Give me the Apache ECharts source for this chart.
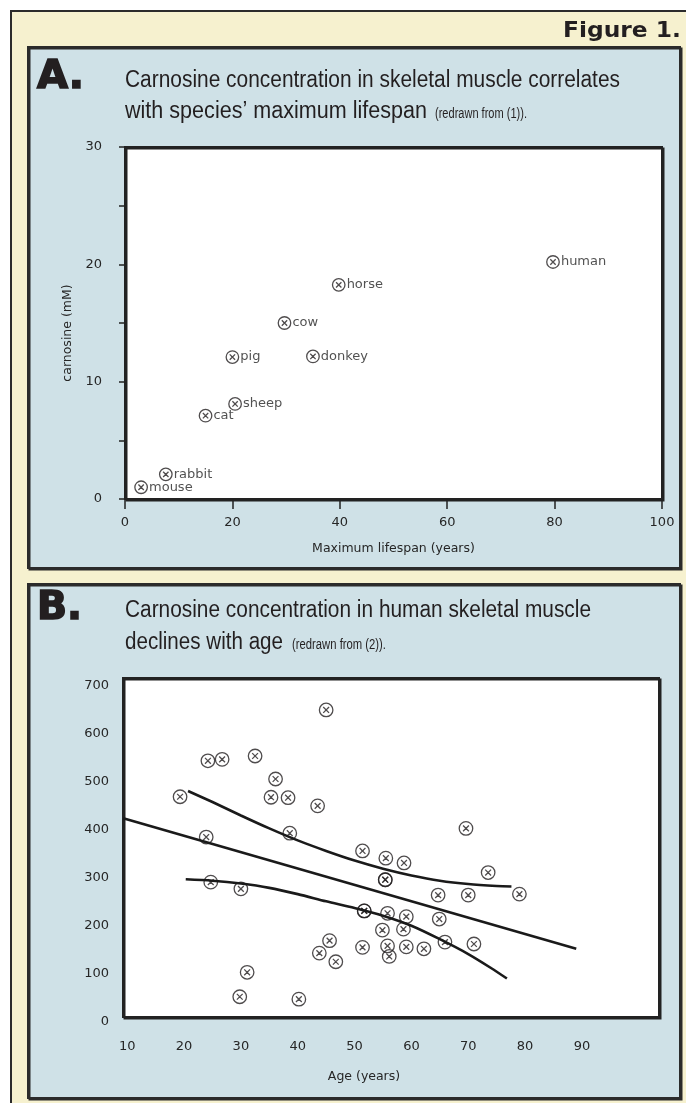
<!DOCTYPE html>
<html>
<head>
<meta charset="utf-8">
<script src="https://cdn.jsdelivr.net/npm/echarts@6/dist/echarts.min.js"></script>
<style>
html,body{margin:0;padding:0;background:#fff;}
#chart{width:686px;height:1103px;}
</style>
</head>
<body>
<div id="chart"></div>
<script>
// ---------- Panel A data ----------
const speciesNames = ['human', 'horse', 'cow', 'donkey', 'pig', 'sheep', 'cat', 'rabbit', 'mouse'];
const speciesLifespan = [79.7, 39.8, 29.7, 35.0, 20.0, 20.5, 15.0, 7.6, 3.0];
const speciesCarnosine = [20.2, 18.25, 15.0, 12.15, 12.1, 8.1, 7.1, 2.1, 1.0];
const aXTicks = [0, 20, 40, 60, 80, 100];
const aYLabels = [0, 10, 20, 30];

// ---------- Panel B data ----------
const subjectAge = [45.0, 24.2, 26.7, 32.5, 36.1, 19.3, 35.3, 38.3, 43.5, 23.9, 38.6, 51.4, 55.5, 58.7,
  69.6, 73.5, 55.4, 55.4, 64.7, 70.0, 79.0, 51.7, 51.7, 55.8, 59.1, 64.9, 54.9, 58.6, 45.6, 43.8,
  46.7, 51.4, 55.8, 56.1, 59.1, 62.2, 65.9, 71.0, 24.7, 30.0, 31.1, 29.8, 40.2];
const subjectCarnosine = [650, 544, 547, 554, 506, 469, 468, 467, 450, 385, 393, 356, 341, 331,
  403, 311, 296, 296, 264, 264, 266, 231, 231, 226, 219, 214, 191, 193, 169, 143,
  125, 155, 158, 136, 156, 152, 166, 162, 291, 277, 103, 52, 47];
const regressionLine = [[9.3, 424], [89, 152]];
const upperBand = [[20.7, 481], [25, 458], [30, 430], [35, 403], [40, 378], [45, 356], [50, 336],
  [55, 319], [60, 305], [65, 294], [70, 287], [75, 283], [77.6, 282]];
const lowerBand = [[20.3, 297], [25, 294], [30, 288], [35, 279], [40, 266], [45, 251], [50, 237],
  [55, 221], [60, 200], [65, 172], [70, 141], [74, 112], [76.8, 90]];
const bXLabels = [10, 20, 30, 40, 50, 60, 70, 80, 90];
const bYLabels = [0, 100, 200, 300, 400, 500, 600, 700];

// ---------- styling ----------
const INK = '#231f20';
const LABEL = '#262626';
const CREAM = '#f6f1cf';
const PANEL = '#cfe1e7';
const XSYM = 'path://M10,0A10,10,0,1,1,-10,0A10,10,0,1,1,10,0ZM-4.3,-4.3L4.3,4.3M4.3,-4.3L-4.3,4.3';
const TICKFONT = 'DejaVu Sans';
const TITLEFONT = '"Liberation Sans Narrow", "Liberation Sans", sans-serif';

const mctx = document.createElement('canvas').getContext('2d');
function fitText(text, x, y, width, size, family, weight) {
  mctx.font = (weight || 'normal') + ' ' + size + 'px ' + family;
  const w = mctx.measureText(text).width;
  return {
    type: 'text', x: x, y: y, scaleX: width / w, z: 10,
    style: { text: text, fontSize: size, fontFamily: family, fontWeight: weight || 'normal',
      fill: INK, align: 'left', verticalAlign: 'middle' }
  };
}

const chart = echarts.init(document.getElementById('chart'), null, { renderer: 'canvas' });

const graphics = [
  { type: 'rect', z: -30, shape: { x: 11, y: 11, width: 720, height: 1140 },
    style: { fill: CREAM, stroke: '#2b2b2b', lineWidth: 2 } },
  { type: 'rect', z: -20, shape: { x: 28, y: 47, width: 652, height: 521 },
    style: { fill: PANEL, stroke: '#2b2b2b', lineWidth: 2, shadowColor: '#2b2b2b', shadowOffsetX: 1.5, shadowOffsetY: 1.5, shadowBlur: 0 } },
  { type: 'rect', z: -20, shape: { x: 28, y: 584, width: 652, height: 514 },
    style: { fill: PANEL, stroke: '#2b2b2b', lineWidth: 2, shadowColor: '#2b2b2b', shadowOffsetX: 1.5, shadowOffsetY: 1.5, shadowBlur: 0 } },
  { type: 'rect', z: -10, shape: { x: 125, y: 147, width: 537, height: 352 },
    style: { fill: '#fff', stroke: '#222', lineWidth: 2, shadowColor: '#222', shadowOffsetX: 1.5, shadowOffsetY: 1.5, shadowBlur: 0 } },
  { type: 'rect', z: -10, shape: { x: 123, y: 678, width: 536, height: 339 },
    style: { fill: '#fff', stroke: '#222', lineWidth: 2, shadowColor: '#222', shadowOffsetX: 1.5, shadowOffsetY: 1.5, shadowBlur: 0 } },
  fitText('Figure 1.', 563, 31, 118, 22, 'DejaVu Sans', 'bold'),
  fitText('A.', 37, 78, 47, 39, 'DejaVu Sans', 'bold'),
  fitText('B.', 37, 609, 45, 39, 'DejaVu Sans', 'bold'),
  fitText('Carnosine concentration in skeletal muscle correlates', 125, 81, 495, 23, TITLEFONT),
  fitText('with species\u2019 maximum lifespan', 125, 112, 302, 23, TITLEFONT),
  fitText('(redrawn from (1)).', 435, 114, 92, 14, TITLEFONT),
  fitText('Carnosine concentration in human skeletal muscle', 125, 611, 466, 23, TITLEFONT),
  fitText('declines with age', 125, 643, 158, 23, TITLEFONT),
  fitText('(redrawn from (2)).', 292, 645, 94, 14, TITLEFONT)
];
[graphics[6], graphics[7]].forEach(g => { g.style.stroke = INK; g.style.lineWidth = 1.6; });

const tickLabel = { color: LABEL, fontFamily: TICKFONT, fontSize: 13 };
const nameStyle = { color: LABEL, fontFamily: TICKFONT, fontSize: 12.5 };
const markerStyle = { color: 'rgba(0,0,0,0)', borderColor: INK, borderWidth: 1.3 };
const bandStyle = { color: '#1a1a1a', width: 2.6 };

const option = {
  backgroundColor: '#ffffff',
  animation: false,
  graphic: { elements: graphics },
  grid: [
    { left: 125, top: 147, width: 537, height: 352 },
    { left: 123, top: 678, width: 536, height: 343.7 }
  ],
  xAxis: [
    { gridIndex: 0, type: 'value', min: aXTicks[0], max: aXTicks[aXTicks.length - 1], interval: 20, offset: 3,
      axisLine: { show: false }, splitLine: { show: false },
      axisTick: { show: true, length: 10, lineStyle: { color: '#222', width: 1.5 } },
      axisLabel: Object.assign({ margin: 14, customValues: aXTicks }, tickLabel),
      name: 'Maximum lifespan (years)', nameLocation: 'middle', nameGap: 40, nameTextStyle: nameStyle },
    { gridIndex: 1, type: 'value', min: 9.26, max: 103.56,
      axisLine: { show: false }, splitLine: { show: false }, axisTick: { show: false },
      axisLabel: Object.assign({ margin: 18, customValues: bXLabels }, tickLabel),
      name: 'Age (years)', nameLocation: 'middle', nameGap: 49,
      nameTextStyle: Object.assign({ padding: [0, 54, 0, 0] }, nameStyle) }
  ],
  yAxis: [
    { gridIndex: 0, type: 'value', min: 0, max: 30, interval: 5,
      axisLine: { show: false }, splitLine: { show: false },
      axisTick: { show: true, length: 6, lineStyle: { color: '#222', width: 1.5 } },
      axisLabel: Object.assign({ margin: 23, customValues: aYLabels }, tickLabel),
      name: 'carnosine (mM)', nameLocation: 'middle', nameGap: 51,
      nameTextStyle: Object.assign({ padding: [0, 20, 0, 0] }, nameStyle) },
    { gridIndex: 1, type: 'value', min: 0, max: 716.6,
      axisLine: { show: false }, splitLine: { show: false }, axisTick: { show: false },
      axisLabel: Object.assign({ margin: 14, customValues: bYLabels }, tickLabel) }
  ],
  series: [
    { type: 'scatter', xAxisIndex: 0, yAxisIndex: 0, symbol: XSYM, symbolSize: 12.5,
      itemStyle: markerStyle,
      label: { show: true, position: 'right', distance: 1, formatter: p => p.name,
        color: LABEL, fontFamily: TICKFONT, fontSize: 13 },
      data: speciesNames.map((n, i) => ({ name: n, value: [speciesLifespan[i], speciesCarnosine[i]] })) },
    { type: 'line', xAxisIndex: 1, yAxisIndex: 1, data: regressionLine, showSymbol: false, symbol: 'none',
      clip: false, lineStyle: bandStyle },
    { type: 'line', xAxisIndex: 1, yAxisIndex: 1, data: upperBand, showSymbol: false, symbol: 'none', smooth: 0.3,
      clip: false, lineStyle: bandStyle },
    { type: 'line', xAxisIndex: 1, yAxisIndex: 1, data: lowerBand, showSymbol: false, symbol: 'none', smooth: 0.3,
      clip: false, lineStyle: bandStyle },
    { type: 'scatter', xAxisIndex: 1, yAxisIndex: 1, symbol: XSYM, symbolSize: 13.5,
      itemStyle: markerStyle,
      data: subjectAge.map((a, i) => [a, subjectCarnosine[i]]) }
  ]
};
chart.setOption(option);
</script>
</body>
</html>
